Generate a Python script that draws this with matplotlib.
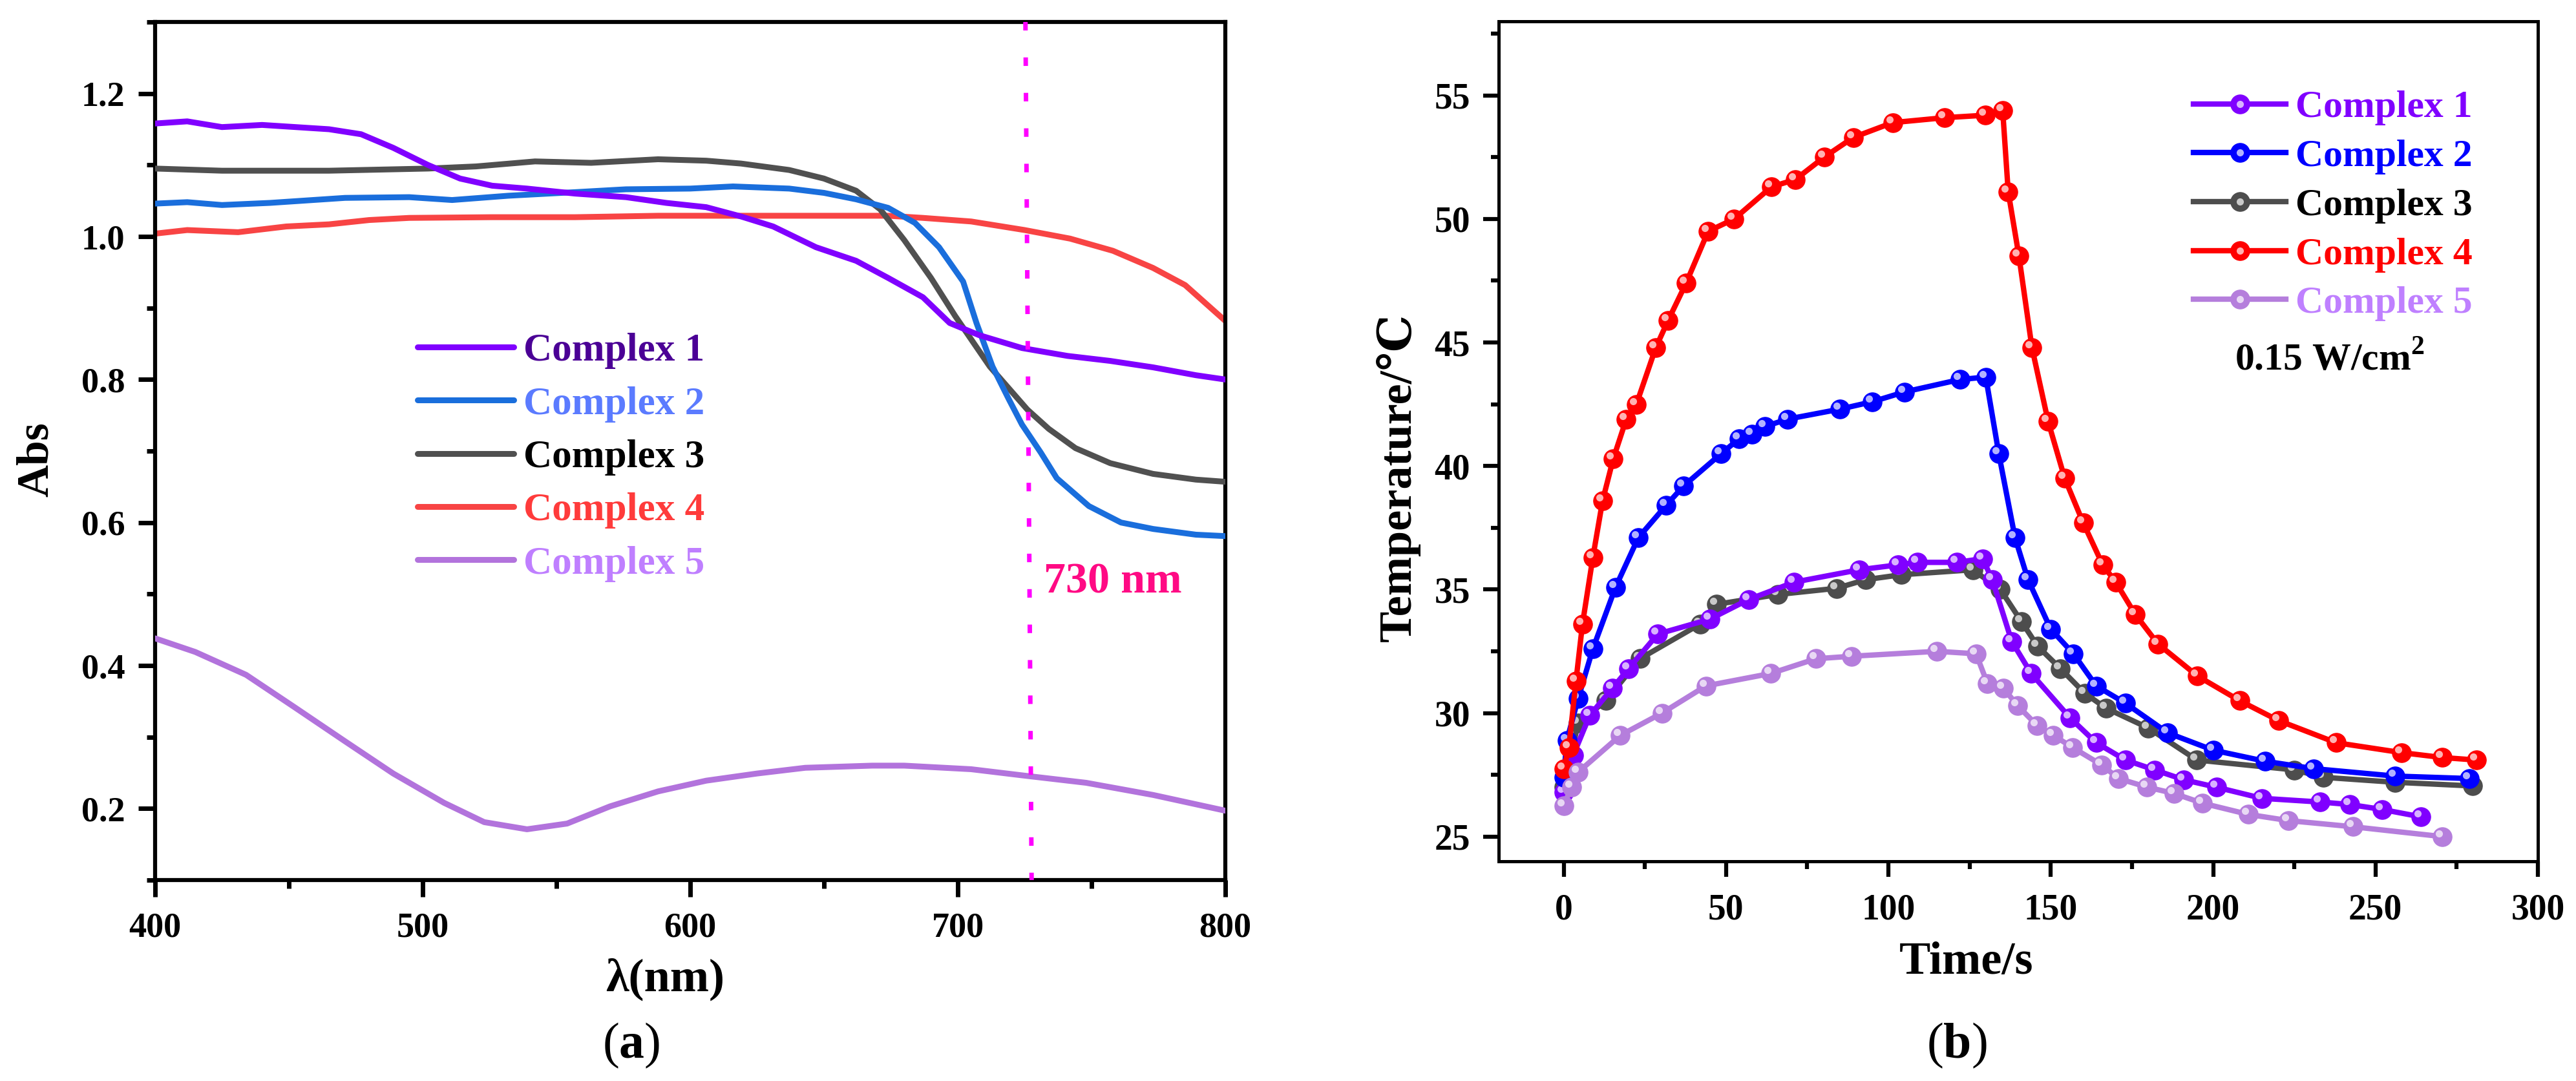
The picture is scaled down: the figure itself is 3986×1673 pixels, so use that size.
import matplotlib
matplotlib.use('Agg')
import matplotlib.pyplot as plt
import matplotlib.transforms as mtransforms
from matplotlib.lines import Line2D
from matplotlib.legend_handler import HandlerTuple
from matplotlib.ticker import MultipleLocator, FormatStrFormatter

plt.rcParams['font.family'] = ['Liberation Serif', 'DejaVu Serif']
plt.rcParams['font.weight'] = 'bold'
plt.rcParams['mathtext.fontset'] = 'custom'
plt.rcParams['mathtext.rm'] = 'Liberation Serif'
plt.rcParams['mathtext.bf'] = 'Liberation Serif:bold'

labels = ['Complex 1', 'Complex 2', 'Complex 3', 'Complex 4', 'Complex 5']

# ---- (a) absorption spectra ----
wl_1 = [400, 412, 425, 440, 465, 477, 489, 502, 514, 526, 539, 557, 576, 591, 606, 619, 631,
        647, 662, 674, 687, 697, 708, 724, 741, 757, 773, 789, 800]
abs_1 = [1.158, 1.161, 1.153, 1.156, 1.150, 1.143, 1.124, 1.100, 1.081, 1.071, 1.067, 1.060,
         1.055, 1.047, 1.041, 1.028, 1.014, 0.985, 0.966, 0.942, 0.915, 0.879, 0.862, 0.844,
         0.833, 0.826, 0.817, 0.806, 0.800]

wl_2 = [400, 412, 425, 443, 471, 495, 511, 532, 557, 576, 600, 616, 637, 650, 662, 674, 684,
        693, 702, 707, 713, 719, 724, 731, 737, 749, 761, 773, 789, 800]
abs_2 = [1.046, 1.048, 1.044, 1.047, 1.054, 1.055, 1.051, 1.057, 1.062, 1.066, 1.067, 1.070,
         1.067, 1.061, 1.052, 1.040, 1.019, 0.985, 0.937, 0.879, 0.818, 0.773, 0.737, 0.698,
         0.662, 0.623, 0.600, 0.591, 0.583, 0.581]

wl_3 = [400, 425, 465, 502, 520, 542, 563, 588, 606, 619, 637, 650, 662, 671, 680, 690, 699,
        712, 726, 734, 744, 757, 773, 789, 800]
abs_3 = [1.095, 1.092, 1.092, 1.095, 1.098, 1.105, 1.103, 1.108, 1.106, 1.102, 1.093, 1.081,
         1.064, 1.038, 0.995, 0.942, 0.889, 0.818, 0.758, 0.731, 0.704, 0.683, 0.668, 0.660,
         0.657]

wl_4 = [400, 412, 431, 449, 465, 480, 495, 526, 557, 588, 619, 650, 674, 687, 705, 725, 742,
        758, 773, 785, 800]
abs_4 = [1.004, 1.009, 1.006, 1.014, 1.017, 1.023, 1.026, 1.027, 1.027, 1.029, 1.029, 1.029,
         1.029, 1.026, 1.021, 1.009, 0.997, 0.980, 0.956, 0.932, 0.882]

wl_5 = [400, 415, 434, 452, 471, 489, 508, 523, 539, 554, 570, 588, 606, 625, 643, 668, 680,
        705, 725, 748, 773, 800]
abs_5 = [0.438, 0.419, 0.387, 0.342, 0.294, 0.249, 0.208, 0.181, 0.171, 0.179, 0.203, 0.224,
         0.239, 0.249, 0.257, 0.260, 0.260, 0.255, 0.246, 0.236, 0.219, 0.197]

marker_wl = [725.3, 727.6]
marker_abs = [1.3, 0.1]

# ---- (b) photothermal heating curves ----
t_1 = [0, 3, 8, 15, 20, 29, 45, 57, 71, 91, 103, 109, 121, 129, 132, 138, 144, 156, 164, 173,
       182, 191, 201, 215, 233, 242, 252, 264]
T_1 = [26.8, 28.3, 29.9, 31.0, 31.8, 33.2, 33.8, 34.6, 35.3, 35.8, 36.0, 36.1, 36.1, 36.25,
       35.4, 32.9, 31.6, 29.8, 28.8, 28.1, 27.7, 27.3, 27.0, 26.55, 26.4, 26.3, 26.1, 25.8]

t_2 = [0, 1, 4.5, 9, 16, 23, 31.5, 37, 48.5, 54, 58, 62, 69, 85, 95, 105, 122, 130, 134, 139,
       143, 150, 157, 164, 173, 186, 200, 216, 231, 256, 279]
T_2 = [27.4, 28.9, 30.6, 32.6, 35.1, 37.1, 38.4, 39.2, 40.5, 41.1, 41.3, 41.6, 41.9, 42.3, 42.6,
       43.0, 43.5, 43.6, 40.5, 37.1, 35.4, 33.4, 32.4, 31.1, 30.4, 29.2, 28.5, 28.05, 27.75,
       27.45, 27.35]

t_3 = [0, 4.5, 13, 23.5, 42, 47, 66, 84, 93, 104, 126, 134.5, 141, 146, 153, 160.5, 167, 180,
       195, 225, 234, 256, 280]
T_3 = [27.0, 29.6, 30.5, 32.2, 33.6, 34.4, 34.8, 35.05, 35.4, 35.6, 35.8, 35.0, 33.7, 32.7, 31.8,
       30.8, 30.2, 29.4, 28.1, 27.7, 27.4, 27.2, 27.05]

t_4 = [0, 1.6, 3.8, 5.8, 9, 12, 15.3, 19.3, 22.4, 28.4, 32.2, 37.7, 44.5, 52.5, 64, 71.4, 80.2,
       89.2, 101.3, 117.3, 129.9, 135.2, 136.9, 140.2, 144.2, 149.2, 154.3, 160, 166, 170, 176,
       183, 195.2, 208.2, 220.1, 237.9, 258, 270.6, 281]
T_4 = [27.75, 28.6, 31.3, 33.6, 36.3, 38.6, 40.3, 41.9, 42.5, 44.8, 45.9, 47.4, 49.5, 50.0, 51.3,
       51.6, 52.5, 53.3, 53.9, 54.1, 54.2, 54.4, 51.1, 48.5, 44.8, 41.8, 39.5, 37.7, 36.0, 35.3,
       34.0, 32.8, 31.5, 30.5, 29.7, 28.8, 28.4, 28.2, 28.1]

t_5 = [0, 2.4, 4.4, 17.5, 30.3, 43.8, 63.7, 77.7, 88.6, 115, 127, 130.5, 135.5, 139.8, 145.8,
       150.8, 156.8, 165.7, 170.9, 179.7, 187.9, 196.8, 210.8, 223.1, 243, 270.6]
T_5 = [26.25, 27.0, 27.6, 29.1, 30.0, 31.1, 31.6, 32.2, 32.3, 32.5, 32.4, 31.2, 31.0, 30.3, 29.5,
       29.1, 28.6, 27.9, 27.35, 27.0, 26.75, 26.35, 25.9, 25.65, 25.4, 25.0]

colors_a = ['#8000ff', '#1a6edc', '#505050', '#f84444', '#b273dc']
text_colors_a = ['#4b0096', '#5b7bff', '#000000', '#ff3b3b', '#bf7fff']
colors_b = ['#8000ff', '#0000ff', '#4d4d4d', '#ff0000', '#b57edc']
text_colors_b = ['#8000ff', '#0000ff', '#000000', '#ff0000', '#bf80ff']

W, H = 3986, 1673
fig = plt.figure(figsize=(W / 100, H / 100), dpi=100)
ax1 = fig.add_axes([240 / W, 1 - 1362 / H, 1656 / W, 1328 / H])
ax2 = fig.add_axes([2319 / W, 1 - 1333 / H, 1608 / W, 1300 / H])

# ---------- panel (a) ----------
series_a = [(wl_1, abs_1), (wl_2, abs_2), (wl_3, abs_3), (wl_4, abs_4), (wl_5, abs_5)]
zo_a = [5, 4, 3, 2, 6]
for (x, y), c, lab, z in zip(series_a, colors_a, labels, zo_a):
    ax1.plot(x, y, color=c, lw=6.5, label=lab, zorder=z, solid_capstyle='round')
ax1.plot(marker_wl, marker_abs, color='#ff00ff', lw=5.0, dashes=(1.9, 6.0),
         dash_capstyle='butt', zorder=7)
ax1.text(732.1, 0.517, '730 nm', color='#ff0a84', fontsize=49, ha='left', va='center')

ax1.set_xlim(400, 800)
ax1.set_ylim(0.1, 1.3)
ax1.xaxis.set_major_locator(MultipleLocator(100))
ax1.xaxis.set_minor_locator(MultipleLocator(50))
ax1.yaxis.set_major_locator(MultipleLocator(0.2))
ax1.yaxis.set_minor_locator(MultipleLocator(0.1))
ax1.yaxis.set_major_formatter(FormatStrFormatter('%.1f'))
ax1.tick_params(which='both', direction='out', width=5, labelsize=39)
ax1.tick_params(which='major', length=18.5)
ax1.tick_params(which='minor', length=9.4)
ax1.tick_params(axis='x', pad=17)
ax1.tick_params(axis='y', pad=15)
for sp in ax1.spines.values():
    sp.set_linewidth(4.5)
ax1.text(-0.1105, 0.49, 'Abs', transform=ax1.transAxes, rotation=90,
         ha='center', va='center', fontsize=50)
ax1.text(0.4765, -0.116, 'λ(nm)', transform=ax1.transAxes,
         ha='center', va='center', fontsize=52)

leg1 = ax1.legend(loc='upper left', bbox_to_anchor=(0.245, 0.6375), frameon=False,
                  fontsize=44, handlelength=2.44, handletextpad=0.25, labelspacing=0.43,
                  borderpad=0, borderaxespad=0)
for txt, c in zip(leg1.get_texts(), text_colors_a):
    txt.set_color(c)

# ---------- panel (b) ----------
series_b = [(t_1, T_1), (t_2, T_2), (t_3, T_3), (t_4, T_4), (t_5, T_5)]
zo_b = [4, 5, 3, 6, 7]
shine = mtransforms.offset_copy(ax2.transData, fig=fig, x=-5, y=5, units='dots')
handles = []
for (x, y), c, lab, z in zip(series_b, colors_b, labels, zo_b):
    ln, = ax2.plot(x, y, color=c, lw=6, marker='o', ms=21, mfc=c, mec=c, zorder=z)
    ax2.plot(x, y, ls='none', marker='o', ms=8, mfc='white', mec='none', alpha=0.7,
             transform=shine, zorder=z)
    hl = Line2D([], [], ls='none', marker='o', ms=8, mfc='white', mec='none', alpha=0.7)
    handles.append((ln, hl))

ax2.set_xlim(-20, 300)
ax2.set_ylim(24, 58)
ax2.xaxis.set_major_locator(MultipleLocator(50))
ax2.xaxis.set_minor_locator(MultipleLocator(25))
ax2.yaxis.set_major_locator(MultipleLocator(5))
ax2.yaxis.set_minor_locator(MultipleLocator(2.5))
ax2.tick_params(which='both', direction='out', width=4.5, labelsize=40)
ax2.tick_params(which='major', length=17.5)
ax2.tick_params(which='minor', length=8.6)
ax2.tick_params(axis='x', pad=18)
ax2.tick_params(axis='y', pad=14)
for sp in ax2.spines.values():
    sp.set_linewidth(3.6)
ax2.text(-0.097, 0.457, 'Temperature/℃', transform=ax2.transAxes, rotation=90,
         ha='center', va='center', fontsize=52)
ax2.text(0.450, -0.12, 'Time/s', transform=ax2.transAxes,
         ha='center', va='center', fontsize=52)
ax2.text(206.6, 44.3, r'0.15 W/cm$^{\mathbf{2}}$', fontsize=43, ha='left', va='center')

leg2 = ax2.legend(handles, labels, handler_map={tuple: HandlerTuple(ndivide=1)},
                  loc='upper left', bbox_to_anchor=(0.6685, 0.918), frameon=False,
                  fontsize=43, handlelength=2.4, handletextpad=0.25, labelspacing=0.35,
                  borderpad=0, borderaxespad=0)
for txt, c in zip(leg2.get_texts(), text_colors_b):
    txt.set_color(c)

# captions
fig.text(977 / W, 1 - 1618 / H, r'($\mathbf{a}$)', fontsize=56, fontweight='normal',
         ha='center', va='center')
fig.text(3028 / W, 1 - 1618 / H, r'($\mathbf{b}$)', fontsize=56, fontweight='normal',
         ha='center', va='center')

fig.savefig('out.png', dpi=100)
